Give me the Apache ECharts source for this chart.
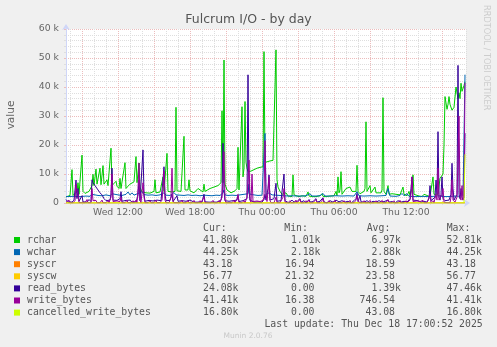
<!DOCTYPE html>
<html><head><meta charset="utf-8">
<script src="https://cdn.jsdelivr.net/npm/echarts@6.0.0/dist/echarts.min.js"></script>
<style>html,body{margin:0;padding:0;background:#f0f0f0}#c{width:497px;height:347px}</style>
</head><body><div id="c"></div>
<script>
// x = 5-minute sample index, sample 0 = Wed 07:40, sample 400 = Thu 17:00 ; y in thousands
const xTickSamples = [52, 124, 196, 268, 340];
const xTickLabels = ['Wed 12:00', 'Wed 18:00', 'Thu 00:00', 'Thu 06:00', 'Thu 12:00'];
const yTickLabels = ['0', '10 k', '20 k', '30 k', '40 k', '50 k', '60 k'];

const rchar = [[0,2.1],[2,2.3],[4,2.6],[5,3.0],[6,11.5],[7,2.6],[9,3.0],[11,4.0],[12,7.0],[13,3.0],[15,3.5],[16,16.5],[17,4.0],[19,3.3],[21,3.6],[23,4.0],[25,4.5],[26,6.0],[27,9.9],[28,6.0],[29,5.5],[30,11.7],[31,6.5],[33,6.0],[34,12.0],[35,6.3],[36,6.0],[37,12.9],[38,6.5],[40,6.2],[41,8.0],[42,6.0],[44,6.3],[45,18.9],[46,6.0],[48,5.8],[50,7.5],[51,5.8],[53,5.0],[54,8.5],[55,5.0],[57,4.6],[59,13.9],[60,5.0],[62,5.8],[64,6.5],[66,7.0],[68,7.3],[69,7.0],[70,16.0],[71,7.0],[72,6.8],[73,13.8],[74,5.5],[76,3.8],[78,3.3],[80,3.5],[82,3.0],[84,3.4],[86,3.2],[88,4.0],[89,8.0],[90,3.5],[92,3.2],[94,3.8],[96,4.0],[97,9.0],[98,4.0],[100,3.6],[101,17.1],[102,4.0],[104,3.5],[106,3.8],[109,4.0],[110,33.0],[111,4.2],[113,4.5],[115,4.0],[117,4.2],[118,23.0],[119,4.5],[120,4.0],[122,4.5],[123,8.0],[124,4.2],[126,4.0],[128,3.5],[130,4.0],[132,5.0],[134,4.5],[137,3.8],[138,6.5],[139,4.0],[141,4.5],[144,5.0],[148,5.5],[152,6.0],[154,6.5],[155,7.0],[156,31.8],[157,7.0],[158,49.3],[159,6.5],[161,4.5],[163,4.0],[165,3.5],[167,4.0],[169,4.2],[170,3.8],[171,5.0],[172,19.2],[173,4.5],[174,4.0],[175,5.0],[176,33.2],[177,9.0],[178,12.0],[179,35.0],[180,14.0],[181,12.0],[182,10.8],[185,11.0],[188,11.5],[191,12.0],[194,12.3],[197,12.5],[198,52.2],[199,14.0],[201,14.3],[204,14.5],[207,14.7],[209,14.8],[210,52.81],[211,8.0],[212,5.5],[214,4.0],[216,3.0],[218,2.5],[220,3.5],[222,2.4],[224,3.0],[226,2.2],[227,9.7],[228,2.8],[230,2.3],[233,2.2],[236,2.5],[240,2.3],[242,3.8],[243,2.4],[246,2.2],[250,2.2],[254,2.5],[256,3.2],[257,2.3],[260,2.2],[264,2.4],[268,2.5],[270,4.0],[271,2.5],[272,9.0],[273,3.5],[274,4.5],[275,10.8],[276,3.0],[278,3.5],[280,5.0],[282,4.5],[284,5.5],[286,4.0],[288,3.5],[290,4.0],[291,13.0],[292,4.0],[294,3.2],[296,3.5],[298,4.0],[299,5.0],[300,28.0],[301,4.0],[303,3.8],[304,6.0],[305,3.5],[307,3.8],[309,5.5],[310,3.5],[312,3.0],[315,3.5],[316,4.5],[317,36.3],[318,4.0],[320,3.0],[322,6.0],[323,3.0],[326,3.2],[328,2.8],[330,3.0],[332,2.5],[334,2.8],[336,3.0],[337,5.5],[338,3.0],[341,2.5],[343,4.0],[344,2.5],[346,5.0],[347,9.7],[348,3.0],[350,2.6],[353,2.4],[356,2.2],[358,3.0],[360,2.5],[364,2.2],[366,2.6],[367,9.0],[368,3.0],[370,2.4],[372,3.0],[374,8.5],[375,8.0],[376,9.0],[377,10.0],[378,20.0],[379,36.7],[380,34.5],[381,32.3],[382,34.0],[383,36.7],[384,34.0],[386,32.0],[388,33.0],[390,40.0],[392,36.0],[393,38.0],[394,36.0],[395,41.3],[396,38.5],[398,40.5],[399,41.8]];

const wchar = [[0,2.2],[8,2.3],[14,2.2],[20,2.4],[24,2.3],[26,3.0],[28,2.4],[32,2.6],[36,2.5],[40,2.8],[44,2.5],[46,3.2],[48,2.6],[52,2.8],[56,2.6],[60,3.0],[62,3.8],[64,2.8],[66,3.5],[68,2.7],[72,3.3],[74,2.8],[76,3.9],[78,2.9],[82,2.7],[86,2.8],[90,2.6],[94,2.8],[98,3.5],[100,2.7],[104,2.6],[108,3.6],[110,2.8],[114,2.7],[118,2.6],[122,2.8],[126,2.6],[130,2.7],[134,2.5],[138,2.7],[142,2.6],[146,2.5],[150,2.7],[154,2.6],[157,3.5],[158,4.5],[159,2.8],[162,2.6],[166,2.7],[170,2.6],[174,2.8],[178,3.0],[182,3.2],[183,6.5],[184,3.0],[188,2.8],[192,2.6],[196,2.7],[198,3.0],[199,24.0],[200,3.0],[203,3.5],[206,2.8],[210,2.7],[214,2.6],[218,2.5],[222,2.4],[226,2.5],[230,2.4],[236,2.4],[240,2.5],[244,3.2],[246,2.4],[250,2.4],[254,2.5],[257,3.3],[259,2.4],[264,2.4],[270,2.5],[276,2.4],[282,2.5],[288,2.4],[291,3.9],[293,2.5],[298,2.4],[304,2.5],[310,2.4],[316,2.5],[320,2.6],[322,5.0],[324,2.4],[330,2.3],[334,2.6],[336,3.3],[338,2.5],[341,3.2],[343,2.3],[350,2.2],[356,2.3],[362,2.2],[368,2.3],[372,2.5],[376,2.3],[380,2.2],[386,2.3],[390,2.4],[394,2.3],[396,4.0],[397,2.5],[398,3.0],[399,44.25]];

const syscr = [[0,0.018],[80,0.019],[160,0.0185],[240,0.0186],[320,0.0184],[398,0.0185],[399,0.0432]];
const syscw = [[0,0.0235],[80,0.024],[160,0.0232],[240,0.0236],[320,0.0234],[398,0.0233],[399,0.0568]];

const readBytes = [[0,1.2],[2,0.4],[4,0.8],[6,0.3],[8,1.0],[9,0.5],[10,7.9],[11,1.5],[12,5.0],[13,0.6],[15,0.3],[16,2.5],[17,0.4],[19,0.8],[21,0.3],[23,1.2],[25,0.5],[26,8.0],[27,7.0],[28,6.5],[29,6.0],[30,5.5],[31,5.8],[32,4.5],[33,4.0],[34,3.5],[35,3.6],[36,2.8],[37,2.4],[38,1.5],[40,0.8],[42,0.5],[44,1.0],[45,3.0],[46,12.0],[47,1.0],[49,0.4],[51,0.9],[53,0.3],[54,1.5],[55,3.9],[56,0.6],[58,0.3],[60,0.9],[62,0.4],[64,1.0],[66,0.3],[68,0.8],[70,0.4],[72,2.5],[73,8.0],[74,0.8],[76,0.4],[77,18.3],[78,3.0],[79,0.6],[81,0.3],[83,0.9],[85,0.3],[87,0.7],[89,0.3],[91,1.0],[93,0.4],[95,0.8],[97,8.0],[98,12.5],[99,3.0],[100,0.8],[102,0.4],[104,0.9],[106,3.0],[107,0.5],[109,0.3],[111,2.5],[112,0.6],[114,0.3],[116,0.8],[118,0.3],[120,0.6],[122,0.3],[124,1.0],[126,0.4],[128,0.3],[130,0.8],[132,0.3],[134,0.5],[136,0.3],[138,3.0],[139,0.4],[141,0.7],[143,0.3],[145,0.6],[147,0.3],[149,0.8],[151,0.3],[153,0.6],[155,1.0],[156,3.0],[157,20.6],[158,4.0],[159,0.8],[161,0.3],[163,0.6],[165,0.3],[167,0.8],[169,0.4],[171,1.0],[172,2.5],[173,0.5],[175,0.4],[177,0.8],[179,0.3],[181,1.5],[182,44.2],[183,4.0],[184,1.0],[186,0.5],[188,0.3],[190,0.8],[192,0.4],[194,0.6],[196,0.3],[198,1.2],[199,3.0],[200,1.0],[202,5.0],[203,9.7],[204,1.0],[206,0.5],[208,1.5],[210,6.8],[211,0.6],[213,0.4],[215,0.8],[217,1.0],[218,10.0],[219,0.8],[221,0.4],[223,0.0],[226,1.0],[228,0.3],[231,0.5],[234,1.5],[235,0.3],[238,0.8],[240,0.0],[243,1.2],[244,0.3],[247,0.5],[250,1.5],[251,0.3],[254,0.6],[257,1.8],[258,0.4],[261,0.0],[264,0.8],[267,0.3],[270,1.0],[273,0.4],[276,0.8],[279,0.3],[282,0.6],[285,0.0],[288,0.8],[290,1.5],[291,3.3],[292,0.5],[294,2.5],[295,0.4],[298,0.3],[301,0.8],[304,0.0],[307,0.6],[310,0.3],[313,0.8],[316,0.3],[319,0.6],[322,1.0],[323,0.3],[326,0.5],[329,0.0],[332,0.8],[335,0.3],[338,0.6],[341,0.3],[344,1.5],[345,5.0],[346,9.0],[347,1.0],[349,0.4],[352,0.8],[355,0.3],[358,0.6],[361,0.3],[363,1.5],[364,6.0],[365,0.8],[367,0.4],[369,2.0],[370,7.9],[371,3.0],[372,24.6],[373,2.0],[374,1.0],[375,3.0],[376,9.0],[377,1.5],[379,0.8],[381,0.4],[383,1.0],[385,3.0],[386,13.7],[387,5.0],[388,1.0],[390,0.8],[391,3.0],[392,47.46],[393,3.0],[394,1.5],[395,5.0],[396,2.0],[397,1.0],[398,2.0],[399,24.08]];

const writeBytes = [[0,0.3],[2,0.1],[3,1.0],[4,0.1],[6,0.5],[7,0.1],[9,0.8],[10,6.5],[11,4.0],[12,3.0],[13,0.2],[15,0.8],[16,0.1],[18,0.6],[19,0.1],[21,1.2],[22,0.1],[24,0.5],[25,0.1],[26,5.0],[27,0.8],[28,0.2],[30,0.9],[31,0.1],[33,0.6],[34,0.1],[36,1.0],[37,0.1],[39,0.5],[40,0.1],[42,0.8],[43,0.1],[45,2.0],[46,10.0],[47,0.5],[49,0.1],[51,0.7],[52,0.1],[54,0.5],[55,2.0],[56,0.1],[58,0.6],[59,0.1],[61,0.9],[62,0.1],[64,0.5],[65,0.1],[67,0.8],[68,0.1],[70,1.0],[71,0.1],[72,5.0],[73,13.8],[74,1.0],[75,0.1],[77,7.0],[78,2.0],[79,0.1],[81,0.6],[82,0.1],[84,0.8],[85,0.1],[87,0.5],[88,0.1],[90,0.9],[91,0.1],[93,0.6],[94,0.1],[96,1.0],[97,5.0],[98,11.0],[99,1.0],[100,0.1],[102,0.6],[103,0.1],[105,2.0],[106,12.0],[107,0.8],[108,0.1],[110,0.7],[111,0.1],[113,0.5],[114,0.1],[116,0.9],[117,0.1],[119,0.6],[120,0.1],[122,0.8],[123,0.1],[125,0.5],[126,0.1],[128,0.9],[129,0.1],[131,0.6],[132,0.1],[134,0.8],[135,0.1],[137,0.5],[138,2.0],[139,0.1],[141,0.7],[142,0.1],[144,0.5],[145,0.1],[147,0.9],[148,0.1],[150,0.6],[151,0.1],[153,0.8],[154,0.1],[156,2.0],[157,8.0],[158,17.7],[159,1.0],[160,0.1],[162,0.7],[163,0.1],[165,0.5],[166,0.1],[168,0.9],[169,0.1],[171,1.5],[172,3.0],[173,0.1],[175,0.6],[176,0.1],[178,0.8],[179,0.1],[181,2.0],[182,8.0],[183,14.8],[184,1.0],[185,0.3],[186,10.0],[187,0.5],[189,0.1],[191,0.7],[192,0.1],[194,0.5],[195,0.1],[197,0.9],[198,2.0],[199,21.5],[200,3.0],[201,0.5],[202,4.0],[203,9.0],[204,0.8],[205,0.1],[207,0.6],[208,0.1],[210,2.0],[211,0.1],[213,0.7],[214,0.1],[216,0.5],[217,2.0],[218,5.0],[219,0.3],[221,0.6],[222,0.1],[224,0.8],[225,0.1],[227,0.5],[228,0.1],[230,1.0],[231,0.1],[233,0.6],[234,1.2],[235,0.1],[237,0.5],[238,0.1],[240,0.8],[241,0.1],[243,1.0],[244,0.1],[246,0.6],[247,0.1],[249,0.5],[250,1.2],[251,0.1],[253,0.6],[254,0.1],[256,0.8],[257,1.5],[258,0.1],[260,0.5],[261,0.1],[263,0.8],[264,0.1],[266,0.6],[267,0.1],[269,0.9],[270,0.1],[272,0.6],[273,0.1],[275,0.5],[276,0.1],[278,0.8],[279,0.1],[281,0.6],[282,0.1],[284,0.9],[285,0.1],[287,0.5],[288,0.1],[290,1.0],[291,2.5],[292,3.0],[293,0.2],[295,0.6],[296,0.1],[298,0.8],[299,0.1],[301,0.5],[302,0.1],[304,0.9],[305,0.1],[307,0.6],[308,0.1],[310,0.8],[311,0.1],[313,0.5],[314,0.1],[316,0.9],[317,0.1],[319,0.6],[320,0.1],[322,1.2],[323,0.1],[325,0.5],[326,0.1],[328,0.8],[329,0.1],[331,0.6],[332,0.1],[334,0.9],[335,0.1],[337,0.5],[338,0.1],[340,0.8],[341,0.1],[343,0.6],[344,1.0],[345,3.0],[346,9.0],[347,0.5],[349,0.1],[351,0.7],[352,0.1],[354,0.5],[355,0.1],[357,0.9],[358,0.1],[360,0.6],[361,0.1],[363,2.0],[364,3.0],[365,0.1],[367,0.8],[368,0.1],[370,3.0],[371,1.0],[372,12.0],[373,1.0],[374,0.5],[376,3.0],[377,5.0],[378,0.3],[380,0.8],[381,0.1],[383,0.6],[384,0.1],[385,2.0],[386,8.0],[387,1.0],[389,0.3],[391,2.0],[392,15.0],[393,30.0],[394,2.0],[395,1.0],[396,6.0],[397,1.0],[398,3.0],[399,41.41]];

const cancelledWriteBytes = [[0,0],[398,0],[399,16.8]];

const seriesNames = ['rchar','wchar','syscr','syscw','read_bytes','write_bytes','cancelled_write_bytes'];
const seriesColors = ['#00cc00','#0066b3','#ff8000','#ffcc00','#330099','#990099','#ccff00'];
const seriesData = [rchar, wchar, syscr, syscw, readBytes, writeBytes, cancelledWriteBytes];

const curVals = ['41.80k','44.25k','43.18','56.77','24.08k','41.41k','16.80k'];
const minVals = ['1.01k','2.18k','16.94','21.32','0.00','16.38','0.00'];
const avgVals = ['6.97k','2.88k','18.59','23.58','1.39k','746.54','43.08'];
const maxVals = ['52.81k','44.25k','43.18','56.77','47.46k','41.41k','16.80k'];
const colHeaders = ['Cur:','Min:','Avg:','Max:'];
const lastUpdate = 'Last update: Thu Dec 18 17:00:52 2025';
const titleText = 'Fulcrum I/O - by day';

// hourly grid line positions (hours since Wed 00:00 -> sample index), starting at 08:00
const hourToSample = h => (h - 7 - 40 / 60) * 12;
const hourLines = [], majorV = [];
for (let h = 8; h <= 41; h++) { hourLines.push(hourToSample(h)); if (h % 3 === 0) majorV.push(hourToSample(h)); }

const chart = echarts.init(document.getElementById('c'), null, {renderer: 'canvas'});
const AXC = '#cfd6f8';
const MAJ = '#ecbcbc';
const MIN = '#dedede';

const series = seriesNames.map((n, i) => ({
  name:n, type:'line', data:seriesData[i], showSymbol:false, symbol:'none', z:2 + i,
  lineStyle:{width:1, color:seriesColors[i]}, itemStyle:{color:seriesColors[i]}, silent:true
}));

const FONT = 'DejaVu Sans';
const MONO = 'DejaVu Sans Mono';
const LFS = 9.8, CW = LFS * 0.602;
const graphics = [];
graphics.push({type:'text', x:248.5, y:20, style:{text:titleText, fontFamily:FONT, fontSize:12.5, fill:'#555', align:'center', verticalAlign:'middle'}});
graphics.push({type:'text', x:11, y:115, rotation:Math.PI/2, style:{text:'value', fontFamily:FONT, fontSize:10.5, fill:'#666', align:'center', verticalAlign:'middle'}});
graphics.push({type:'text', x:486.5, y:5, rotation:-Math.PI/2, style:{text:'RRDTOOL / TOBI OETIKER', fontFamily:FONT, fontSize:8.2, fill:'#cdcdcd', align:'left', verticalAlign:'middle'}});
graphics.push({type:'text', x:248, y:336, style:{text:'Munin 2.0.76', fontFamily:FONT, fontSize:7.5, fill:'#c8c8c8', align:'center', verticalAlign:'middle'}});

const headX = [203, 284.3, 366.7, 446.7];
const colRight = [232.5, 314.5, 395, 476];
colHeaders.forEach((h, j) => graphics.push({type:'text', x:headX[j], y:228.3, style:{text:h, fontFamily:MONO, fontSize:LFS, fill:'#555', align:'left', verticalAlign:'middle'}}));
const cols = [curVals, minVals, avgVals, maxVals];
seriesNames.forEach((n, i) => {
  const yc = 240 + 12.1 * i;
  graphics.push({type:'rect', shape:{x:14, y:yc - 3, width:6, height:6}, style:{fill:seriesColors[i]}});
  graphics.push({type:'text', x:27, y:yc, style:{text:n, fontFamily:MONO, fontSize:LFS, fill:'#555', align:'left', verticalAlign:'middle'}});
  cols.forEach((arr, j) => {
    const t = arr[i];
    const xr = colRight[j] + (t.endsWith('k') ? CW : 0);
    graphics.push({type:'text', x:xr, y:yc, style:{text:t, fontFamily:MONO, fontSize:LFS, fill:'#555', align:'right', verticalAlign:'middle'}});
  });
});
graphics.push({type:'text', x:482.7, y:324, style:{text:lastUpdate, fontFamily:MONO, fontSize:LFS, fill:'#555', align:'right', verticalAlign:'middle'}});

chart.setOption({
  animation:false,
  backgroundColor:'#f0f0f0',
  grid:{left:66, top:29, width:400, height:174, show:true, backgroundColor:'#ffffff', borderWidth:0},
  xAxis:{type:'value', min:0, max:400,
    axisLine:{show:true, lineStyle:{color:AXC, width:1}, symbol:['none','arrow'], symbolSize:[6,6], symbolOffset:[0,4]},
    axisTick:{show:true, customValues:hourLines, length:2, lineStyle:{color:MIN}},
    axisLabel:{customValues:xTickSamples, formatter:v => xTickLabels[xTickSamples.indexOf(v)] || '', color:'#666', fontFamily:FONT, fontSize:9.3, margin:5},
    splitLine:{show:true, lineStyle:{color:[MIN, MAJ, MIN], type:[1,1], width:1}}},
  yAxis:{type:'value', min:0, max:60, interval:10,
    axisLine:{show:true, lineStyle:{color:AXC, width:1}, symbol:['none','arrow'], symbolSize:[6,6], symbolOffset:[0,5]},
    axisTick:{show:true, length:2, lineStyle:{color:MAJ}},
    minorTick:{show:true, splitNumber:5, length:2, lineStyle:{color:MIN}},
    axisLabel:{formatter:v => yTickLabels[Math.round(v / 10)], color:'#666', fontFamily:FONT, fontSize:9.3, margin:7},
    splitLine:{show:true, lineStyle:{color:MAJ, type:[1,1], width:1}},
    minorSplitLine:{show:true, lineStyle:{color:MIN, type:[1,1], width:1}}},
  series: series,
  graphic: graphics
});
</script></body></html>
